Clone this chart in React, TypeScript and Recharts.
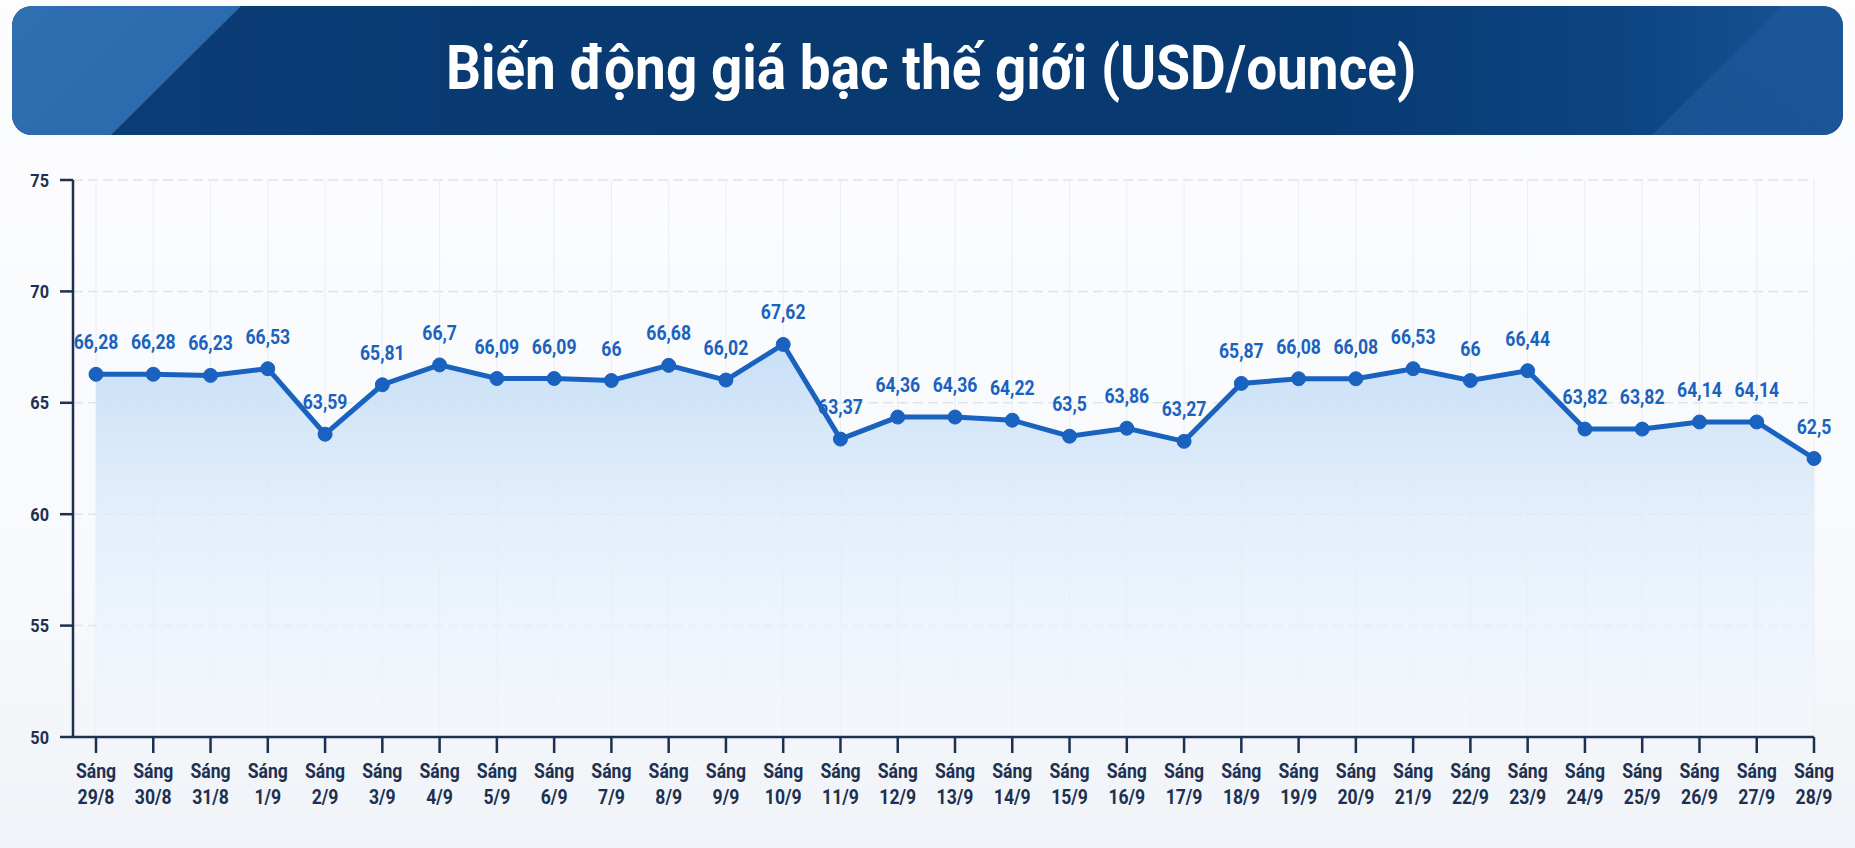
import React from 'react';
import {
  ComposedChart,
  Area,
  XAxis,
  YAxis,
  CartesianGrid,
  LabelList,
} from 'recharts';

const dates = [
  '29/8', '30/8', '31/8', '1/9', '2/9', '3/9', '4/9', '5/9', '6/9', '7/9',
  '8/9', '9/9', '10/9', '11/9', '12/9', '13/9', '14/9', '15/9', '16/9', '17/9',
  '18/9', '19/9', '20/9', '21/9', '22/9', '23/9', '24/9', '25/9', '26/9', '27/9', '28/9',
];
const prices = [
  66.28, 66.28, 66.23, 66.53, 63.59, 65.81, 66.7, 66.09, 66.09, 66,
  66.68, 66.02, 67.62, 63.37, 64.36, 64.36, 64.22, 63.5, 63.86, 63.27,
  65.87, 66.08, 66.08, 66.53, 66, 66.44, 63.82, 63.82, 64.14, 64.14, 62.5,
];
const yTicks = [50, 55, 60, 65, 70, 75];
const prefix = 'Sáng';

const data = dates.map((d, i) => ({ date: d, price: prices[i] }));

const FONT = 'Roboto, "Noto Sans", sans-serif';
const NAVY = '#1d3050';
const BLUE = '#1a62c0';

// condensed look: squeeze text horizontally around its anchor
const DateTick = (props: any) => {
  const { x, y, payload } = props;
  return (
    <g transform={`translate(${x},${y}) scale(0.88,1)`}>
      <text x={0} y={0} textAnchor="middle" fill={NAVY} fontFamily={FONT} fontWeight={700} fontSize={20}>
        <tspan x={0} dy={25}>{prefix}</tspan>
        <tspan x={0} dy={26}>{payload.value}</tspan>
      </text>
    </g>
  );
};

const ValueLabel = (props: any) => {
  const vb = props.viewBox || props;
  const cx = (vb.x ?? props.x) + (vb.width || 0) / 2;
  const cy = vb.y ?? props.y;
  return (
    <g transform={`translate(${cx},${cy - 25}) scale(0.88,1)`}>
      <text x={0} y={0} textAnchor="middle" fill={BLUE} fontFamily={FONT} fontWeight={700} fontSize={20}>
        {String(props.value).replace('.', ',')}
      </text>
    </g>
  );
};

const ValueTickY = (props: any) => {
  const { x, y, payload } = props;
  return (
    <g transform={`translate(${x},${y}) scale(0.88,1)`}>
      <text x={0} y={0} dy={6.5} textAnchor="end" fill={NAVY} fontFamily={FONT} fontWeight={700} fontSize={18.5}>
        {payload.value}
      </text>
    </g>
  );
};

export default function App() {
  return (
    <div
      style={{
        position: 'absolute',
        left: 0,
        top: 0,
        width: 1855,
        height: 848,
        overflow: 'hidden',
        background: 'linear-gradient(180deg, #fdfdfe 0%, #f7f9fc 70%, #f0f3f7 100%)',
      }}
    >
      {/* title banner */}
      <div
        style={{
          position: 'absolute',
          left: 12,
          top: 6,
          width: 1831,
          height: 129,
          borderRadius: 20,
          overflow: 'hidden',
          background: 'linear-gradient(90deg, #0b3d78 0%, #08396f 40%, #083a72 72%, #0d4482 88%, #1a5597 100%)',
        }}
      >
        <div
          style={{
            position: 'absolute',
            inset: 0,
            clipPath: 'polygon(0 0, 229px 0, 99px 100%, 0 100%)',
            background: 'linear-gradient(135deg, #2f70b2 0%, #1f5a9c 60%, #174d8c 100%)',
          }}
        />
        <div
          style={{
            position: 'absolute',
            inset: 0,
            clipPath: 'polygon(1770px 0, 1831px 0, 1831px 100%, 1640px 100%)',
            background: 'linear-gradient(135deg, #3a7ec0 0%, #2463a6 60%, #1c5597 100%)',
            opacity: 0.7,
          }}
        />
        <div
          style={{
            position: 'absolute',
            inset: 0,
            display: 'flex',
            alignItems: 'center',
            justifyContent: 'center',
            paddingLeft: 7,
            paddingBottom: 6,
          }}
        >
          <span
            style={{
              display: 'inline-block',
              color: '#ffffff',
              fontFamily: FONT,
              fontWeight: 700,
              fontSize: 61,
              transform: 'scaleX(0.9)',
              whiteSpace: 'nowrap',
            }}
          >
            Biến động giá bạc thế giới (USD/ounce)
          </span>
        </div>
      </div>

      <div style={{ position: 'absolute', left: 0, top: 0 }}>
        <ComposedChart
          width={1855}
          height={848}
          data={data}
          margin={{ top: 180, right: 41, bottom: 31, left: 13 }}
        >
          <defs>
            <linearGradient id="silverFill" x1="0" y1="0" x2="0" y2="1">
              <stop offset="0%" stopColor="#c2dcf6" stopOpacity={0.9} />
              <stop offset="45%" stopColor="#deecfa" stopOpacity={0.75} />
              <stop offset="100%" stopColor="#f3f8fd" stopOpacity={0.5} />
            </linearGradient>
          </defs>
          <CartesianGrid vertical={false} stroke="#dfe4ea" strokeDasharray="10 5" strokeWidth={1.5} />
          <CartesianGrid horizontal={false} stroke="#e8eef5" strokeWidth={1} />
          <XAxis
            dataKey="date"
            height={80}
            padding={{ left: 23, right: 0 }}
            interval={0}
            axisLine={{ stroke: NAVY, strokeWidth: 2.5 }}
            tickLine={{ stroke: NAVY, strokeWidth: 2.5 }}
            tickSize={16}
            tickMargin={0}
            tick={<DateTick />}
          />
          <YAxis
            width={60}
            domain={[50, 75]}
            ticks={yTicks}
            interval={0}
            axisLine={{ stroke: NAVY, strokeWidth: 2.5 }}
            tickLine={{ stroke: NAVY, strokeWidth: 2.5 }}
            tickSize={13}
            tickMargin={11}
            tick={<ValueTickY />}
          />
          <Area
            type="linear"
            dataKey="price"
            stroke={BLUE}
            strokeWidth={5}
            fill="url(#silverFill)"
            fillOpacity={1}
            dot={{ r: 7, fill: BLUE, fillOpacity: 1, stroke: BLUE, strokeWidth: 1 }}
            activeDot={false}
            isAnimationActive={false}
          >
            <LabelList dataKey="price" content={<ValueLabel />} />
          </Area>
        </ComposedChart>
      </div>
    </div>
  );
}
